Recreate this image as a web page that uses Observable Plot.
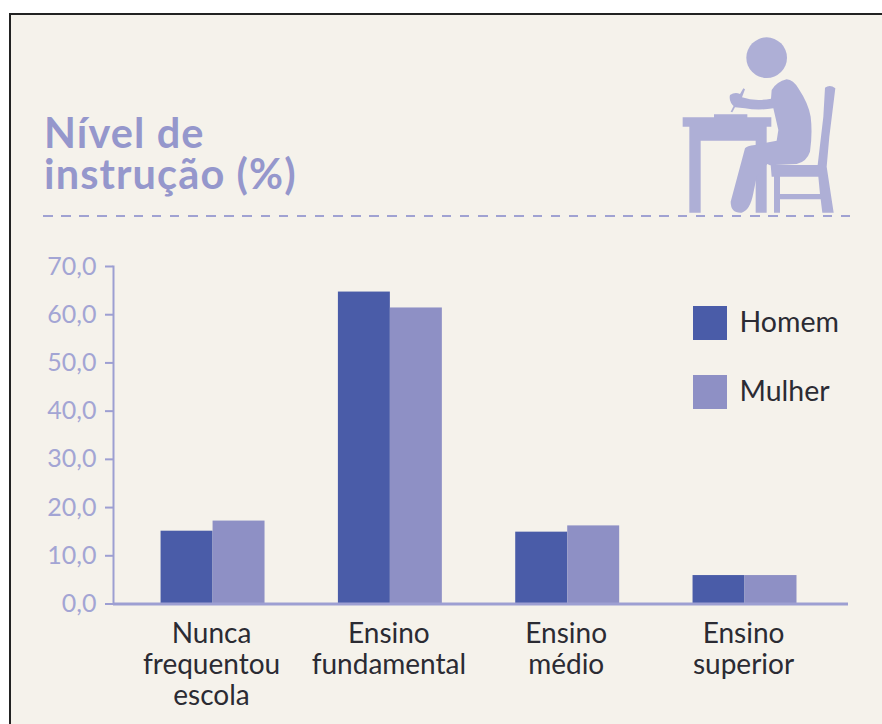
<!DOCTYPE html>
<html lang="pt">
<head>
<meta charset="utf-8">
<script src="https://cdn.jsdelivr.net/npm/d3@7"></script>
<script src="https://cdn.jsdelivr.net/npm/@observablehq/plot@0.6"></script>
<style>
html,body{margin:0;padding:0;background:#fff;width:882px;height:724px;overflow:hidden}
#frame{position:absolute;left:9px;top:13px;width:900px;height:800px;border:2px solid #222;background:#f5f2eb;box-sizing:border-box}
#chart{position:absolute;left:0;top:0}
#chart svg{background:transparent;display:block}
#title{position:absolute;left:44px;top:112px;font:700 41.5px/41px Lato,sans-serif;color:#9597cc;letter-spacing:1.1px}
#rule{position:absolute;left:43px;top:215px;width:807px;height:2px;background:repeating-linear-gradient(90deg,#a0a2d2 0 9.5px,transparent 9.5px 18.13px)}
#icon{position:absolute;left:660px;top:20px}
.leg{position:absolute;left:693px;width:34px;height:34px}
.legt{position:absolute;left:739.5px;font:28.5px/32px Lato,sans-serif;color:#2b2b33}
</style>
</head>
<body>
<div id="frame"></div>
<div id="title">Nível de<br>instrução (%)</div>
<div id="rule"></div>
<svg id="icon" width="222" height="210" viewBox="0 0 666 630" fill="#aeafd6">
  <circle cx="320" cy="113" r="61"/>
  <path d="M68 292H162V283H262V292H334V320H320V578H287V362H122V578H88V320H68Z"/>
  <path d="M335 210Q350 185 380 178Q400 180 415 205Q445 250 452 290Q458 340 450 395Q440 425 410 432L330 436L322 432L290 470L280 520Q270 572 245 578Q212 580 212 545L255 385Q260 378 285 375L350 362L355 330L340 265Q295 272 255 265L225 262Q205 245 210 225Q225 215 240 222L250 205L255 208L246 232Q285 245 333 236Z"/>
  <path d="M212 275L225 250L230 252L217 277Z"/>
  <path d="M495 203Q510 192 526 205L508 350L500 440L521 578H487L482 538H360V578H342V470H335L332 435H473L490 290Z M360 470V522H480L475 470Z" fill-rule="evenodd"/>
</svg>
<div id="chart"></div>
<div class="leg" style="top:306px;background:#4a5ca8"></div>
<div class="legt" style="top:305px">Homem</div>
<div class="leg" style="top:375px;background:#8e90c5"></div>
<div class="legt" style="top:374px">Mulher</div>
<script>
const categorias = ["Nunca\nfrequentou\nescola", "Ensino\nfundamental", "Ensino\nmédio", "Ensino\nsuperior"];
const homem = [15.1, 64.7, 14.9, 5.9];
const mulher = [17.2, 61.4, 16.2, 5.9];
const cores = ["#4a5ca8", "#8e90c5"];
const ticks = [0, 10, 20, 30, 40, 50, 60, 70];

const dadosHomem = categorias.map((c, i) => ({cat: c, valor: homem[i]}));
const dadosMulher = categorias.map((c, i) => ({cat: c, valor: mulher[i]}));
const corEixo = "#9d9fd2";
const plot = Plot.plot({
  width: 882, height: 724,
  marginLeft: 113, marginRight: 34, marginTop: 266, marginBottom: 120.5,
  style: {background: "transparent", overflow: "visible"},
  x: {domain: categorias, paddingInner: 0.707, paddingOuter: 0.426, align: 0.487, round: false, label: null},
  y: {domain: [0, 70], label: null},
  marks: [
    Plot.barY(dadosHomem, {x: "cat", y: "valor", fill: cores[0], dx: -26}),
    Plot.barY(dadosMulher, {x: "cat", y: "valor", fill: cores[1], dx: 26}),
    Plot.axisY(ticks, {
      anchor: "left", label: null, tickSize: 8, tickPadding: 9,
      tickFormat: d => d.toFixed(1).replace(".", ","),
      fontSize: 25, fontFamily: "Lato,sans-serif", stroke: corEixo,
      fill: "#a3a5d4", strokeWidth: 2
    }),
    Plot.axisX({
      anchor: "bottom", label: null, tickSize: 0, tickPadding: 17, dx: -1.5,
      fontSize: 28, fontFamily: "Lato,sans-serif", fill: "#2b2b33", lineHeight: 1.11, lineAnchor: "top"
    }),
    Plot.frame({anchor: "left", stroke: corEixo, strokeWidth: 2}),
    Plot.ruleY([0], {stroke: corEixo, strokeWidth: 3})
  ]
});
document.getElementById("chart").appendChild(plot);
</script>
</body>
</html>
